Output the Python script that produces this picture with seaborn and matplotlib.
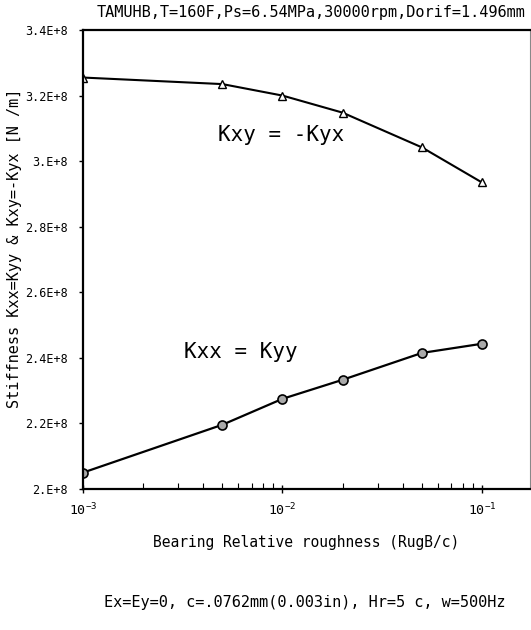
import matplotlib
matplotlib.use("Agg")
import matplotlib.pyplot as plt
import seaborn as sns
import pandas as pd
import numpy as np
from matplotlib.ticker import FixedLocator, FixedFormatter, LogLocator, NullFormatter

# ---- data ----
roughness = [0.001, 0.005, 0.01, 0.02, 0.05, 0.1]
kxy = [3.255e8, 3.235e8, 3.200e8, 3.148e8, 3.042e8, 2.935e8]
kxx = [2.050e8, 2.196e8, 2.275e8, 2.333e8, 2.415e8, 2.443e8]

title_text = "TAMUHB,T=160F,Ps=6.54MPa,30000rpm,Dorif=1.496mm"
xlabel_text = "Bearing Relative roughness (RugB/c)"
ylabel_text = "Stiffness Kxx=Kyy & Kxy=-Kyx [N /m]"
note_text = "Ex=Ey=0, c=.0762mm(0.003in), Hr=5 c, w=500Hz"
ytick_vals = [2.0e8, 2.2e8, 2.4e8, 2.6e8, 2.8e8, 3.0e8, 3.2e8, 3.4e8]
ytick_labels = ["2.E+8", "2.2E+8", "2.4E+8", "2.6E+8", "2.8E+8", "3.E+8", "3.2E+8", "3.4E+8"]
xtick_vals = [1e-3, 1e-2, 1e-1]
xtick_labels = [r"$\mathregular{10^{-3}}$", r"$\mathregular{10^{-2}}$", r"$\mathregular{10^{-1}}$"]

sns.set_theme(style="white")
plt.rcParams['font.family'] = ['DejaVu Sans Mono', 'DejaVu Sans']
plt.rcParams['text.color'] = 'black'
plt.rcParams['xtick.color'] = 'black'
plt.rcParams['ytick.color'] = 'black'

df = pd.DataFrame({"r": roughness, "kxy": kxy, "kxx": kxx})

W, H = 531, 630
fig = plt.figure(figsize=(W / 100, H / 100), dpi=100)
ax = fig.add_axes([83 / W, 1 - 489 / H, (530 - 83) / W, (489 - 30) / H])

sns.lineplot(data=df, x="r", y="kxy", ax=ax, color="black", lw=1.5,
             marker="^", markersize=5.5, markerfacecolor="white",
             markeredgecolor="black", markeredgewidth=1.0)
sns.lineplot(data=df, x="r", y="kxx", ax=ax, color="black", lw=1.6,
             marker="o", markersize=6.5, markerfacecolor="#aaaaaa",
             markeredgecolor="black", markeredgewidth=1.2)

ax.set_xscale("log")
ax.set_xlim(1e-3, 10 ** (-0.759))
ax.set_ylim(2.0e8, 3.4e8)

ax.yaxis.set_major_locator(FixedLocator(ytick_vals))
ax.yaxis.set_major_formatter(FixedFormatter(ytick_labels))
ax.xaxis.set_major_locator(FixedLocator(xtick_vals))
ax.xaxis.set_major_formatter(FixedFormatter(xtick_labels))
ax.xaxis.set_minor_locator(LogLocator(base=10, subs=np.arange(2, 10)))
ax.xaxis.set_minor_formatter(NullFormatter())

ax.tick_params(axis="y", which="major", direction="out", length=3, width=1,
               left=True, labelsize=8.5, pad=8, colors="black")
ax.tick_params(axis="x", which="major", direction="inout", length=6, width=1,
               bottom=True, labelsize=9.5, pad=6, colors="black")
ax.tick_params(axis="x", which="minor", direction="in", length=4, width=0.8,
               bottom=True, colors="black")

ax.set_xlabel("")
ax.set_ylabel("")

for s in ["left", "bottom", "top"]:
    ax.spines[s].set_color("black")
    ax.spines[s].set_linewidth(1.6)
ax.spines["right"].set_color("#888888")
ax.spines["right"].set_linewidth(0.8)

fig.text(281 / W, 1 - 135 / H, "Kxy = -Kyx", fontsize=15, ha="center", va="center")
fig.text(241 / W, 1 - 352 / H, "Kxx = Kyy", fontsize=15, ha="center", va="center")

fig.text(311 / W, 1 - 13 / H, title_text, fontsize=11, ha="center", va="center")
fig.text(306 / W, 1 - 543 / H, xlabel_text, fontsize=10.5, ha="center", va="center")
fig.text(15 / W, 1 - 248 / H, ylabel_text, fontsize=11, ha="center", va="center",
         rotation=90)
fig.text(305 / W, 1 - 602 / H, note_text, fontsize=11, ha="center", va="center")

fig.savefig("out.png", dpi=100, facecolor="white")
